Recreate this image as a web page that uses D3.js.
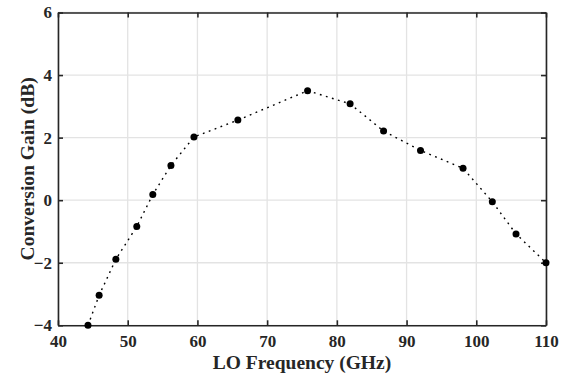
<!DOCTYPE html>
<html>
<head>
<meta charset="utf-8">
<script src="https://cdn.jsdelivr.net/npm/d3@7"></script>
<style>
  body { margin: 0; background: #fff; }
  svg { display: block; }
  text { font-family: "Liberation Serif", "Times New Roman", serif; font-weight: bold; fill: #262626; }
</style>
</head>
<body>
<svg id="chart" width="565" height="379"></svg>
<script>
const freq = [44.3, 45.9, 48.3, 51.3, 53.6, 56.2, 59.5, 65.8, 75.8, 81.9, 86.7, 92.0, 98.1, 102.3, 105.7, 110.0];
const gain = [-4.0, -3.04, -1.89, -0.84, 0.18, 1.11, 2.02, 2.56, 3.50, 3.08, 2.21, 1.59, 1.02, -0.05, -1.08, -2.0];
const xTicks = [40, 50, 60, 70, 80, 90, 100, 110];
const yTicks = [-4, -2, 0, 2, 4, 6];
const xLabel = "LO Frequency (GHz)";
const yLabel = "Conversion Gain (dB)";

const W = 565, H = 379;
const m = { left: 58, right: 19, top: 12.5, bottom: 53.7 };
const svg = d3.select("#chart");
const x = d3.scaleLinear().domain([40, 110]).range([m.left, W - m.right]);
const y = d3.scaleLinear().domain([-4, 6]).range([H - m.bottom, m.top]);

// grid
const g = svg.append("g");
g.selectAll(".gx").data(xTicks).join("line")
  .attr("x1", d => x(d)).attr("x2", d => x(d))
  .attr("y1", y(-4)).attr("y2", y(6))
  .attr("stroke", "#e3e3e3").attr("stroke-width", 1.3);
g.selectAll(".gy").data(yTicks).join("line")
  .attr("y1", d => y(d)).attr("y2", d => y(d))
  .attr("x1", x(40)).attr("x2", x(110))
  .attr("stroke", "#e3e3e3").attr("stroke-width", 1.3);

// axes
const tl = 5;
const axB = svg.append("g").attr("transform", `translate(0,${y(-4)})`)
  .call(d3.axisBottom(x).tickValues(xTicks).tickSizeInner(-tl).tickSizeOuter(0).tickPadding(10));
const axT = svg.append("g").attr("transform", `translate(0,${y(6)})`)
  .call(d3.axisTop(x).tickValues(xTicks).tickSizeInner(-tl).tickSizeOuter(0).tickFormat(""));
const axL = svg.append("g").attr("transform", `translate(${x(40)},0)`)
  .call(d3.axisLeft(y).tickValues(yTicks).tickSizeInner(-tl).tickSizeOuter(0).tickPadding(6));
const axR = svg.append("g").attr("transform", `translate(${x(110)},0)`)
  .call(d3.axisRight(y).tickValues(yTicks).tickSizeInner(-tl).tickSizeOuter(0).tickFormat(""));
[axB, axT, axL, axR].forEach(a => {
  a.selectAll("path.domain").attr("stroke", "#262626").attr("stroke-width", 1.6);
  a.selectAll(".tick line").attr("stroke", "#262626").attr("stroke-width", 1.6);
  a.selectAll("text").attr("font-family", "Liberation Serif, Times New Roman, serif")
    .attr("font-weight", "bold").attr("font-size", 17).attr("fill", "#262626");
});

// line
const line = d3.line().x((d, i) => x(freq[i])).y((d, i) => y(gain[i]));
svg.append("path").datum(gain).attr("d", line)
  .attr("fill", "none").attr("stroke", "#000").attr("stroke-width", 1.4)
  .attr("stroke-dasharray", "1.8,4.5");

svg.selectAll(".pt").data(gain).join("circle")
  .attr("cx", (d, i) => x(freq[i])).attr("cy", d => y(d))
  .attr("r", 3.5).attr("fill", "#000");

// labels
svg.append("text").attr("x", (x(40) + x(110)) / 2).attr("y", 369).attr("text-anchor", "middle")
  .attr("font-size", 19.5).text(xLabel);
svg.append("text").attr("transform", `translate(34,${(y(-4) + y(6)) / 2}) rotate(-90)`)
  .attr("text-anchor", "middle").attr("font-size", 19.5).text(yLabel);
</script>
</body>
</html>
